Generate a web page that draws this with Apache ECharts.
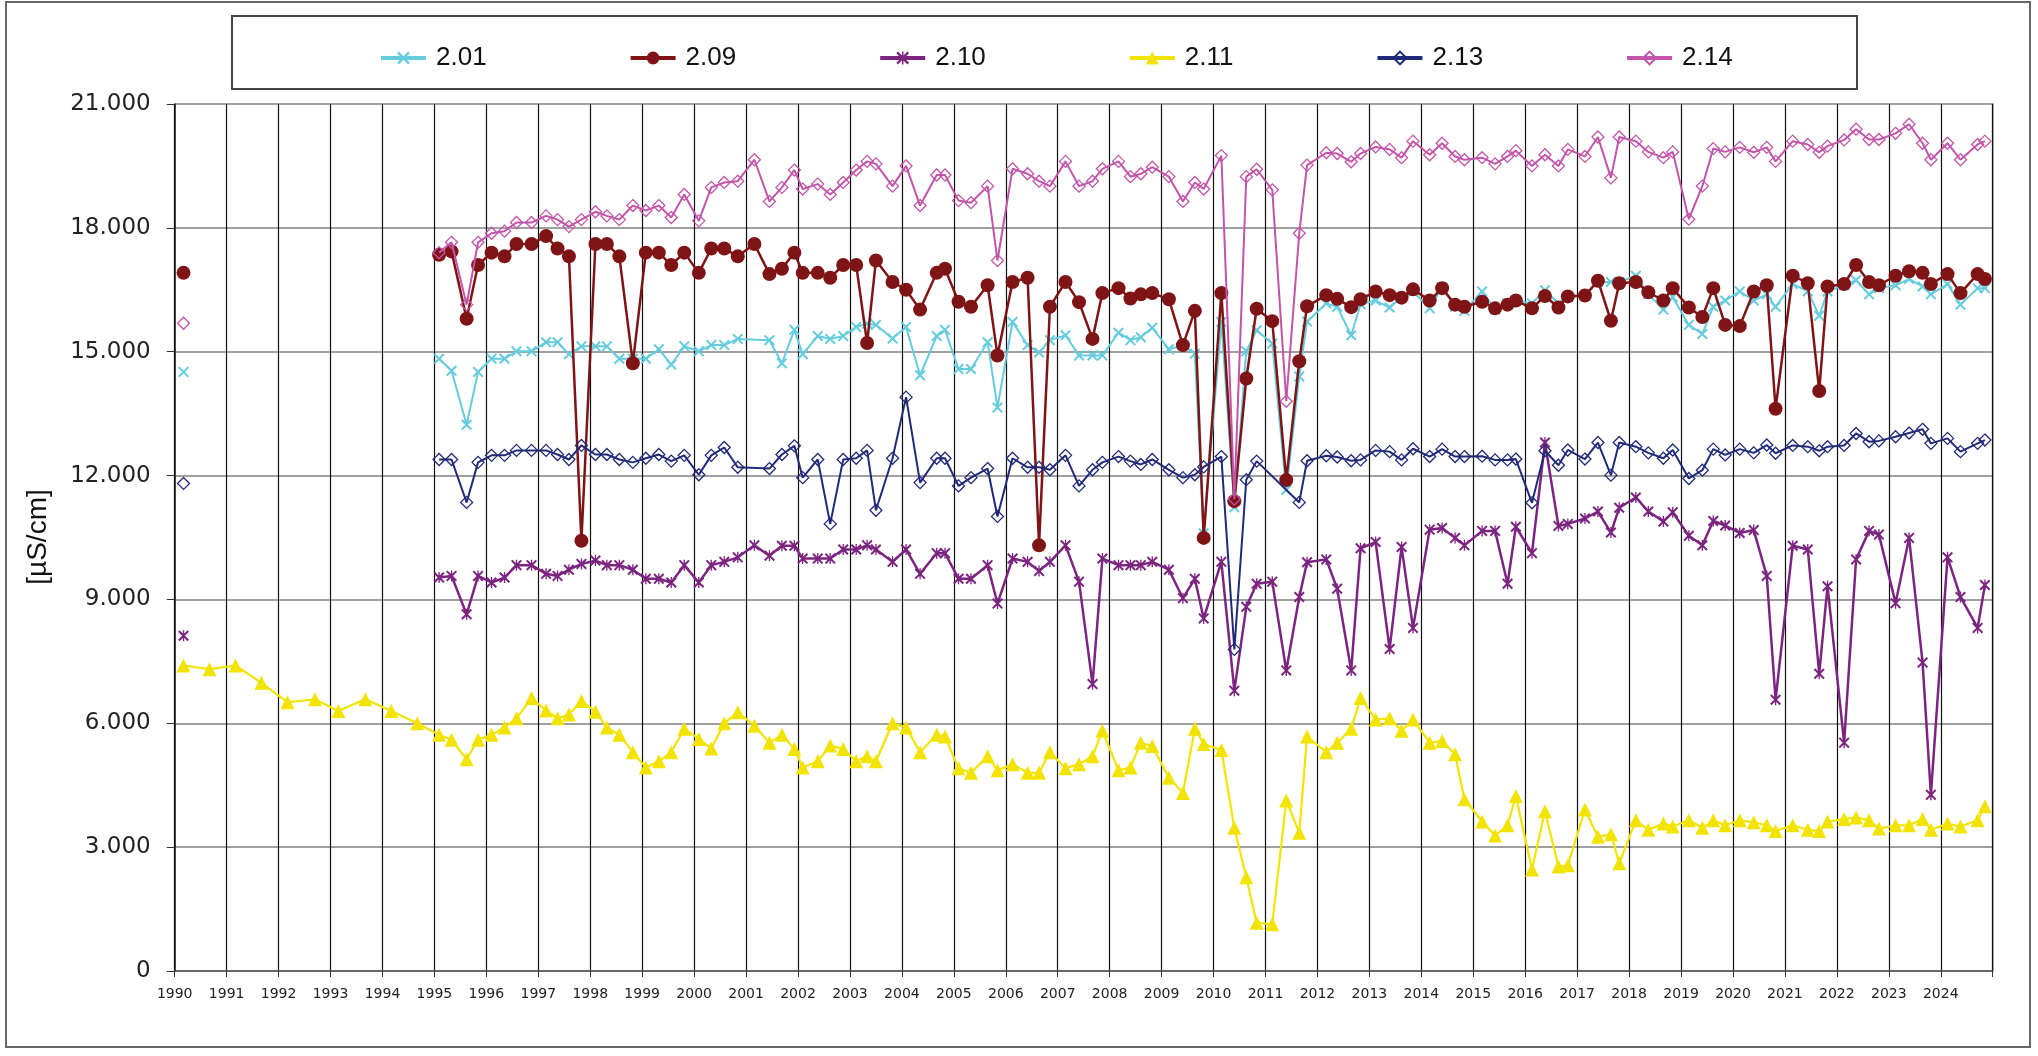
<!DOCTYPE html>
<html><head><meta charset="utf-8">
<script src="https://cdn.jsdelivr.net/npm/echarts@6/dist/echarts.min.js"></script>
<style>html,body{margin:0;padding:0;background:#fff}#c{width:2038px;height:1056px}</style>
</head><body><div id="c"></div>
<script>
const seriesNames = ['2.01', '2.09', '2.10', '2.11', '2.13', '2.14'];
const firstYear = 1990.17;
const firstValues = [14510, 16910, 8120, 7400, 11810, 15690];
const earlyYears211 = [1990.67, 1991.17, 1991.67, 1992.17, 1992.70, 1993.15, 1993.67, 1994.17, 1994.67];
const earlyValues211 = [7310, 7400, 6980, 6510, 6580, 6300, 6580, 6300, 6000];

const years = [
1995.09,1995.33,1995.62,1995.84, 1996.10,1996.35,1996.58,1996.87,
1997.15,1997.37,1997.59,1997.83, 1998.10,1998.32,1998.56,1998.82,
1999.07,1999.32,1999.56,1999.81, 2000.09,2000.33,2000.58,2000.84,
2001.16,2001.45,2001.69,2001.93, 2002.09,2002.38,2002.62,2002.87,
2003.12,2003.33,2003.50,2003.82, 2004.08,2004.35,2004.67,2004.83,
2005.09,2005.33,2005.65,2005.84, 2006.13,2006.42,2006.64,2006.85,
2007.15,2007.41,2007.67,2007.86, 2008.17,2008.40,2008.60,2008.82,
2009.14,2009.41,2009.64,2009.81, 2010.15,2010.40,2010.63,2010.83,
2011.13,2011.40,2011.65,2011.80, 2012.17,2012.38,2012.65,2012.83,
2013.12,2013.39,2013.62,2013.84, 2014.16,2014.40,2014.65,2014.83,
2015.17,2015.42,2015.66,2015.82, 2016.13,2016.38,2016.64,2016.82,
2017.15,2017.40,2017.65,2017.81, 2018.13,2018.37,2018.66,2018.84,
2019.15,2019.41,2019.62,2019.85, 2020.13,2020.40,2020.65,2020.82,
2021.15,2021.44,2021.66,2021.82, 2022.14,2022.37,2022.62,2022.81,
2023.13,2023.39,2023.65,2023.81, 2024.13,2024.38,2024.71,2024.85
];

const v201 = [
14830,14540,13230,14510, 14830,14830,15010,15010,
15230,15230,14940,15130, 15130,15130,14830,14830,
14830,15060,14690,15130, 15010,15160,15160,15310,
null,15280,14720,15530, 14940,15380,15310,15380,
15600,15680,15650,15320, 15600,14430,15380,15530,
14580,14580,15230,13650, 15720,15160,14980,15280,
15400,14910,14910,14910, 15460,15280,15350,15580,
15060,15160,14950,10600, 15720,11230,15010,15520,
15200,11650,14400,15730, 16170,16090,15400,16150,
16240,16070,16320,16460, 16050,16570,16090,15990,
16460,16020,16170,16240, 16170,16490,16170,16320,
16360,16690,16690,16690, 16840,16390,16020,16320,
15650,15430,16090,16240, 16460,16240,16390,16090,
16640,16460,15870,16460, 16610,16730,16390,16540,
16610,16760,16580,16390, 16640,16140,16540,16540
];
const v209 = [
17350,17430,15800,17100, 17400,17310,17610,17610,
17800,17500,17310,10420, 17610,17610,17310,14720,
17400,17400,17100,17400, 16910,17500,17500,17310,
17610,16880,17010,17400, 16910,16910,16790,17100,
17100,15210,17210,16690, 16500,16020,16910,17010,
16210,16090,16610,14910, 16690,16790,10310,16090,
16690,16200,15310,16420, 16540,16290,16390,16420,
16270,15160,15990,10490, 16420,11380,14350,16040,
15740,11890,14770,16100, 16370,16280,16080,16270,
16460,16370,16310,16510, 16240,16540,16140,16090,
16210,16050,16140,16240, 16050,16350,16070,16340,
16360,16720,15750,16660, 16690,16440,16240,16540,
16070,15840,16540,15650, 15620,16460,16610,13620,
16840,16660,14050,16580, 16640,17100,16690,16610,
16840,16950,16910,16640, 16880,16420,16880,16760
];
const v210 = [
9530,9570,8640,9570, 9410,9530,9830,9830,
9620,9570,9720,9860, 9940,9830,9830,9720,
9500,9500,9410,9830, 9410,9830,9910,10020,
10310,10060,10300,10300, 9990,9990,9990,10210,
10210,10310,10210,9910, 10210,9620,10120,10120,
9500,9500,9830,8900, 9990,9910,9690,9910,
10310,9430,6950,9990, 9830,9830,9830,9910,
9720,9030,9500,8540, 9910,6790,8820,9380,
9430,7280,9060,9900, 9970,9260,7280,10240,
10390,7800,10270,8310, 10690,10730,10490,10310,
10660,10660,9380,10760, 10120,12800,10780,10830,
10960,11130,10620,11220, 11470,11130,10890,11110,
10540,10310,10900,10790, 10610,10680,9570,6570,
10300,10210,7200,9320, 5530,9970,10660,10570,
8910,10490,7470,4270, 10020,9060,8310,9350
];
const v211 = [
5720,5600,5130,5600, 5720,5900,6120,6610,
6310,6120,6210,6540, 6280,5900,5720,5300,
4930,5080,5300,5870, 5620,5390,6000,6270,
5940,5530,5720,5380, 4930,5080,5460,5380,
5080,5200,5080,6000, 5900,5300,5720,5680,
4910,4800,5200,4860, 5010,4800,4800,5300,
4910,5010,5200,5820, 4860,4930,5530,5450,
4680,4310,5870,5500, 5350,3470,2270,1170,
1130,4130,3350,5680, 5300,5530,5870,6610,
6090,6120,5820,6090, 5530,5570,5250,4160,
3620,3280,3530,4240, 2460,3870,2530,2560,
3910,3250,3310,2610, 3650,3420,3570,3500,
3650,3470,3650,3530, 3650,3600,3530,3390,
3530,3420,3390,3620, 3680,3720,3650,3450,
3530,3530,3680,3420, 3570,3500,3650,3990
];
const v213 = [
12390,12390,11350,12320, 12490,12490,12610,12610,
12610,12510,12390,12730, 12510,12510,12390,12320,
12420,12510,12350,12490, 12020,12490,12680,12200,
null,12170,12510,12720, 11950,12390,10830,12390,
12420,12610,11160,12420, 13900,11830,12420,12420,
11750,11950,12170,11010, 12420,12200,12200,12140,
12490,11750,12140,12320, 12460,12350,12270,12390,
12140,11950,12020,12210, 12460,7790,11900,12350,
null,null,11350,12360, 12480,12450,12360,12380,
12610,12580,12380,12650, 12460,12640,12460,12460,
12470,12380,12380,12400, 11340,12600,12250,12620,
12400,12800,12010,12800, 12700,12550,12420,12620,
11930,12130,12640,12500, 12640,12550,12740,12540,
12730,12700,12600,12700, 12730,13020,12820,12840,
12940,13030,13120,12780, 12900,12580,12780,12860
];
const v214 = [
17400,17650,16140,17650, 17870,17920,18130,18130,
18290,18200,18030,18200, 18390,18290,18200,18540,
18420,18540,18250,18810, 18170,18980,19100,19130,
19650,18640,18980,19400, 18940,19060,18810,19100,
19400,19610,19550,19010, 19500,18540,19280,19280,
18660,18610,19010,17210, 19430,19310,19130,19010,
19610,19010,19130,19430, 19610,19240,19310,19470,
19240,18640,19100,18940, 19750,11430,19240,19420,
18920,13800,17870,19520, 19820,19800,19600,19800,
19960,19900,19700,20100, 19770,20050,19730,19650,
19700,19550,19730,19870, 19500,19770,19500,19900,
19730,20200,19210,20200, 20100,19840,19700,19840,
18210,19010,19920,19840, 19950,19830,19950,19610,
20100,20020,19830,19980, 20130,20390,20140,20140,
20290,20510,20050,19650, 20050,19650,20020,20100
];
const yTicks = { min: 0, max: 21000, step: 3000 };
const xTicks = { min: 1990, max: 2025, step: 1 };

const mainValues = [v201, v209, v210, v211, v213, v214];
const colors = ['#66CCDD', '#7F1416', '#7C2580', '#F2E400', '#212A78', '#C254AA'];
const X_PATH = 'path://M0,1.3L1.3,0L5,3.7L8.7,0L10,1.3L6.3,5L10,8.7L8.7,10L5,6.3L1.3,10L0,8.7L3.7,5Z';
const STAR_PATH = 'path://M0,1.3L1.3,0L5,3.7L8.7,0L10,1.3L6.3,5L10,8.7L8.7,10L5,6.3L1.3,10L0,8.7L3.7,5Z M4.4,0L5.6,0L5.6,10L4.4,10Z';
const styles = [
  { symbol: X_PATH, size: 11, fill: true, lw: 2 },
  { symbol: 'circle', size: 14, fill: true, lw: 2.5 },
  { symbol: STAR_PATH, size: 11, fill: true, lw: 2.5 },
  { symbol: 'triangle', size: 14, fill: true, lw: 2.2 },
  { symbol: 'diamond', size: 12, fill: false, lw: 2 },
  { symbol: 'diamond', size: 12, fill: false, lw: 2 }
];

function buildData(i) {
  const d = [[firstYear, firstValues[i]]];
  if (seriesNames[i] === '2.11') {
    earlyYears211.forEach((y, k) => d.push([y, earlyValues211[k]]));
  } else {
    d.push([1992.5, '-']);
  }
  years.forEach((y, k) => { const v = mainValues[i][k]; if (v !== null) d.push([y, v]); });
  return d;
}

const series = seriesNames.map((name, i) => {
  const st = styles[i];
  return {
    name, type: 'line', data: buildData(i),
    symbol: st.symbol, symbolSize: st.size, showSymbol: true, showAllSymbol: true,
    connectNulls: false,
    lineStyle: { color: colors[i], width: st.lw },
    itemStyle: st.fill ? { color: colors[i] } : { color: 'rgba(255,255,255,0)', borderColor: colors[i], borderWidth: 1.3 },
    emphasis: { disabled: true },
    z: 2 + i
  };
});

const chart = echarts.init(document.getElementById('c'), null, { renderer: 'canvas' });
chart.setOption({
  animation: false,
  backgroundColor: '#fff',
  grid: { left: 174.7, right: 45.3, top: 104, bottom: 85, containLabel: false },
  legend: {
    data: seriesNames, left: 374, top: 38, itemWidth: 45, itemHeight: 16, itemGap: 142,
    lineStyle: { width: 4 },
    textStyle: { fontFamily: 'Liberation Sans', fontSize: 26, color: '#111', lineHeight: 30, padding: [0, 0, 0, 5] }
  },
  xAxis: {
    type: 'value', min: xTicks.min, max: xTicks.max, interval: xTicks.step,
    axisLine: { show: true, lineStyle: { color: '#555', width: 1.5 } },
    axisTick: { show: true, length: 6, lineStyle: { color: '#333' } },
    axisLabel: { fontFamily: 'DejaVu Sans', fontSize: 14, color: '#222', margin: 16,
      formatter: v => (v >= 2025 ? '' : String(v)) },
    splitLine: { show: true, lineStyle: { color: '#111', width: 1.2 } }
  },
  yAxis: {
    type: 'value', min: yTicks.min, max: yTicks.max, interval: yTicks.step,
    axisLine: { show: true, lineStyle: { color: '#111', width: 1.5 } },
    axisTick: { show: true, length: 8, lineStyle: { color: '#333' } },
    axisLabel: { fontFamily: 'DejaVu Sans', fontSize: 23, color: '#222', margin: 24,
      formatter: v => (v === 0 ? '0' : (v / 1000).toFixed(3)) },
    splitLine: { show: true, lineStyle: { color: '#808080', width: 1.5 } }
  },
  graphic: [
    { type: 'rect', silent: true, z: -1, shape: { x: 6, y: 2, width: 2024, height: 1045 },
      style: { fill: 'none', stroke: '#666', lineWidth: 2 } },
    { type: 'rect', silent: true, z: -1, shape: { x: 232, y: 16, width: 1625, height: 73 },
      style: { fill: 'none', stroke: '#444', lineWidth: 2 } },
    { type: 'rect', silent: true, z: -1, shape: { x: 1992.7, y: 104, width: 0.1, height: 867 },
      style: { fill: 'none', stroke: '#808080', lineWidth: 1.5 } },
    { type: 'text', x: 38, y: 537, rotation: Math.PI / 2,
      style: { text: '[µS/cm]', font: '28px "Liberation Sans"', fill: '#111', textAlign: 'center', textVerticalAlign: 'middle' } }
  ],
  series
});
</script>
</body></html>
